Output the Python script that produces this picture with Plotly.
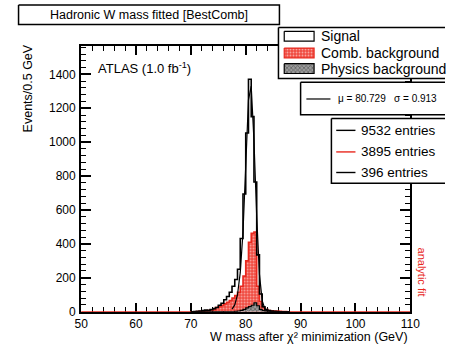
import numpy as np
import plotly.graph_objects as go

W, H = 455, 352

# ---------------- data ----------------
bin_left = np.arange(70.0, 88.0, 0.5)   # 0.5 GeV bins, left edges
signal = [0, 1, 2, 4, 6, 9, 8, 12, 18, 25, 38, 50, 70, 90, 115, 150, 190, 250,
          432, 694, 1054, 1371, 1151, 765, 335, 104, 29, 12, 6, 3, 2, 1, 0, 0, 0, 0]
comb = [0, 0, 1, 2, 3, 4, 6, 8, 12, 25, 30, 37, 46, 56, 66, 80, 95, 115,
        150, 210, 300, 410, 462, 470, 150, 60, 25, 12, 7, 5, 4, 3, 2, 1, 1, 0]
physics = [0, 0, 0, 0, 0, 0, 0, 0, 0, 0, 0, 0, 0, 0, 0, 0, 2, 4,
           8, 14, 22, 30, 38, 52, 35, 14, 6, 3, 1, 0, 0, 0, 0, 0, 0, 0]
fit_x = [77.5, 78.0, 78.5, 79.0, 79.5, 80.0, 80.5, 81.0, 81.5, 82.0, 82.5, 83.0, 83.5, 84.0]
fit_y = [15, 40, 100, 230, 470, 850, 1250, 1330, 1010, 560, 220, 65, 15, 3]

x_range = [50, 110]
y_range = [0, 1567]
x_ticks = [50, 60, 70, 80, 90, 100, 110]
y_ticks = [0, 200, 400, 600, 800, 1000, 1200, 1400]

title_text = "Hadronic W mass fitted [BestComb]"
legend_labels = ["Signal", "Comb. background", "Physics background"]
fit_label = "μ = 80.729\u00a0\u00a0\u00a0σ = 0.913"
entries = ["9532 entries", "3895 entries", "396 entries"]
entry_colors = ["black", "#e8281e", "black"]
RED = "#e8281e"

# plot area in pixels
L, R, T, B = 77, 419, 47, 318

COMB_PAT = dict(shape=".", fgcolor="white", bgcolor="#f04a40", size=3, solidity=0.3)
PHYS_PAT = dict(shape="x", fgcolor="#222222", bgcolor="#9a9a9a", size=3, solidity=0.4)


def hist_xy(vals, lo, hi):
    edges = list(bin_left)
    xs = [lo] + edges + [edges[-1] + 0.5, hi]
    ys = [0] + list(vals) + [0, 0]
    return xs, ys


fig = go.Figure()

cx, cy = hist_xy(comb, 50, 110)
fig.add_trace(go.Scatter(x=cx, y=cy, mode="lines", line=dict(color=RED, width=1.6, shape="hv"),
                         fill="tozeroy", fillpattern=COMB_PAT,
                         hoverinfo="skip", showlegend=False))
px_, py_ = hist_xy(physics, 70, 88)
fig.add_trace(go.Scatter(x=px_, y=py_, mode="lines", line=dict(color="black", width=1.2, shape="hv"),
                         fill="tozeroy", fillpattern=PHYS_PAT,
                         hoverinfo="skip", showlegend=False))
sx, sy = hist_xy(signal, 70, 88)
fig.add_trace(go.Scatter(x=sx, y=sy, mode="lines", line=dict(color="black", width=1.6, shape="hv"),
                         hoverinfo="skip", showlegend=False))
fig.add_trace(go.Scatter(x=fit_x, y=fit_y, mode="lines", line=dict(color="black", width=1.2),
                         hoverinfo="skip", showlegend=False))


# ---------- overlay (pixel coordinates) : boxes and legend swatches ----------
def box(x0, y0, x1, y1, fill="white", line="black", lw=1.5, pattern=None):
    kw = dict(x=[x0, x1, x1, x0, x0], y=[y0, y0, y1, y1, y0], xaxis="x2", yaxis="y2",
              mode="lines", fill="toself", fillcolor=fill, line=dict(color=line, width=lw),
              hoverinfo="skip", showlegend=False)
    if pattern:
        kw["fillpattern"] = pattern
    fig.add_trace(go.Scatter(**kw))


box(12, 5, 283, 25)
box(282, 28, 462, 80)
box(305, 84, 462, 117)
box(337, 121, 462, 187)
box(288, 32, 319, 42, fill="white", line="black", lw=1.2)
box(288, 49, 319, 59, line=RED, lw=1.2, pattern=COMB_PAT)
box(288, 65, 319, 75, line="black", lw=1.2, pattern=PHYS_PAT)
fig.add_trace(go.Scatter(x=[311, 336], y=[101, 101], xaxis="x2", yaxis="y2", mode="lines",
                         line=dict(color="black", width=1.2), hoverinfo="skip", showlegend=False))
for yy, col in zip([133, 155, 176], entry_colors):
    fig.add_trace(go.Scatter(x=[342, 362], y=[yy, yy], xaxis="x2", yaxis="y2", mode="lines",
                             line=dict(color=col, width=1.4), hoverinfo="skip", showlegend=False))

ann = []


def text(x, y, s, size, xa="left", ya="middle", color="black", angle=0):
    ann.append(dict(x=x, y=y, xref="x2", yref="y2", text=s, showarrow=False, xanchor=xa,
                    yanchor=ya, font=dict(size=size, color=color), textangle=angle))


text(147, 15, title_text, 12.5, xa="center")
text(92, 69, "ATLAS (1.0 fb<sup>-1</sup>)", 13)
for yy, s in zip([37, 54, 70], legend_labels):
    text(324, yy, s, 14)
text(342, 101, fit_label, 10)
for yy, s in zip([133, 155, 176], entries):
    text(366, yy, s, 13.5)
text(431, 278, "analytic fit", 11, xa="center", color=RED, angle=90)
text(22, 90, "Events/0.5 GeV", 12.5, xa="center", ya="middle", angle=-90)
# x-axis title, placed in paper coordinates (figure has no margins)
ann.append(dict(x=R / W, y=0, xref="paper", yref="paper", xanchor="right", yanchor="bottom",
                yshift=-1, showarrow=False, text="W mass after χ² minimization (GeV)",
                font=dict(size=12.5, color="black")))

axis_common = dict(showline=True, linecolor="black", linewidth=2, mirror="allticks",
                   ticks="inside", tickcolor="black", showgrid=False, zeroline=False,
                   layer="below traces", tickfont=dict(size=12, color="black"))

fig.update_layout(
    width=W, height=H,
    margin=dict(l=0, r=0, t=0, b=0),
    paper_bgcolor="white", plot_bgcolor="rgba(0,0,0,0)",
    font=dict(family="Liberation Sans, Arial, sans-serif", color="black"),
    showlegend=False,
    xaxis=dict(domain=[L / W, R / W], range=x_range, tickvals=x_ticks, ticklen=9, tickwidth=1.5,
               minor=dict(dtick=2, tick0=50, ticklen=5, tickwidth=1.2, ticks="inside", tickcolor="black"),
               ticklabelstandoff=0, **axis_common),
    yaxis=dict(domain=[(H - B) / H, (H - T) / H], range=y_range, tickvals=y_ticks, ticklen=10, tickwidth=1.5,
               minor=dict(dtick=40, tick0=0, ticklen=5, tickwidth=1.2, ticks="inside", tickcolor="black"),
               ticklabelstandoff=1, **axis_common),
    xaxis2=dict(domain=[0, 1], range=[0, W], visible=False, anchor="y2", fixedrange=True),
    yaxis2=dict(domain=[0, 1], range=[H, 0], visible=False, anchor="x2", fixedrange=True),
    annotations=ann,
)

fig.write_html("out.html")
